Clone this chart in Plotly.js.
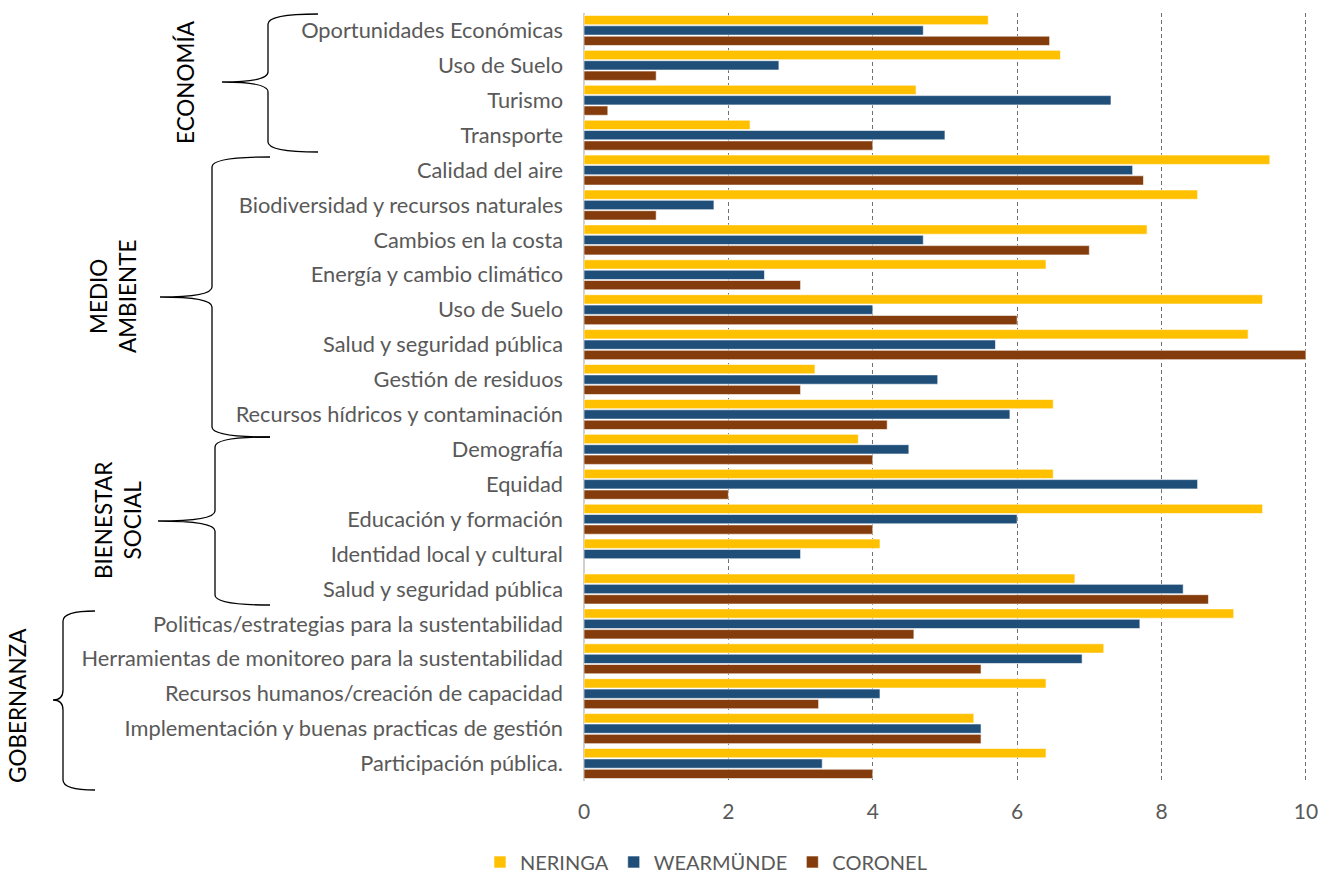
<!DOCTYPE html>
<html>
<head>
<meta charset="utf-8">
<script src="https://cdn.plot.ly/plotly-3.0.1.min.js"></script>
<style>html,body{margin:0;padding:0;background:#fff;}#chart{width:1330px;height:875px;}</style>
</head>
<body>
<div id="chart"></div>
<script>
const categories = [
  "Oportunidades Económicas",
  "Uso de Suelo",
  "Turismo",
  "Transporte",
  "Calidad del aire",
  "Biodiversidad y recursos naturales",
  "Cambios en la costa",
  "Energía y cambio climático",
  "Uso de Suelo",
  "Salud y seguridad pública",
  "Gestión de residuos",
  "Recursos hídricos y contaminación",
  "Demografía",
  "Equidad",
  "Educación y formación",
  "Identidad local y cultural",
  "Salud y seguridad pública",
  "Politicas/estrategias para la sustentabilidad",
  "Herramientas de monitoreo para la sustentabilidad",
  "Recursos humanos/creación de capacidad",
  "Implementación y buenas practicas de gestión",
  "Participación pública."
];
const neringa   = [5.6, 6.6, 4.6, 2.3, 9.5, 8.5, 7.8, 6.4, 9.4, 9.2, 3.2, 6.5, 3.8, 6.5, 9.4, 4.1, 6.8, 9.0, 7.2, 6.4, 5.4, 6.4];
const wearmunde = [4.7, 2.7, 7.3, 5.0, 7.6, 1.8, 4.7, 2.5, 4.0, 5.7, 4.9, 5.9, 4.5, 8.5, 6.0, 3.0, 8.3, 7.7, 6.9, 4.1, 5.5, 3.3];
const coronel   = [6.45, 1.0, 0.33, 4.0, 7.75, 1.0, 7.0, 3.0, 6.0, 10.0, 3.0, 4.2, 4.0, 2.0, 4.0, null, 8.65, 4.57, 5.5, 3.25, 5.5, 4.0];
const seriesNames = ["NERINGA", "WEARMÜNDE", "CORONEL"];
const xTicks = [0, 2, 4, 6, 8, 10];
const groupNames = ["ECONOMÍA", "MEDIO<br>AMBIENTE", "BIENESTAR<br>SOCIAL", "GOBERNANZA"];

const idx = categories.map((_, i) => i);
const colors = ["#FFC000", "#1F4E79", "#843C0C"];
const data = [neringa, wearmunde, coronel].map((vals, k) => ({
  type: "bar",
  orientation: "h",
  name: seriesNames[k],
  x: vals,
  y: idx,
  marker: {color: colors[k], line: {color: "rgba(255,255,255,0.6)", width: 1}},
  hoverinfo: "x+name"
}));

// plot area geometry (pixels)
const W = 1330, H = 875;
const M = {l: 584, r: 23, t: 13, b: 94, autoexpand: false};
const PW = W - M.l - M.r, PH = H - M.t - M.b;
const px = x => ((x - M.l) / PW).toFixed(5);
const py = y => (1 - (y - M.t) / PH).toFixed(5);

function brace(xEnd, yTop, xV, xTip, yTip, yBot) {
  const r = 10;
  return "M" + px(xEnd) + "," + py(yTop) +
    " Q" + px(xV) + "," + py(yTop) + " " + px(xV) + "," + py(yTop + r) +
    " L" + px(xV) + "," + py(yTip - r) +
    " Q" + px(xV) + "," + py(yTip) + " " + px(xTip) + "," + py(yTip) +
    " Q" + px(xV) + "," + py(yTip) + " " + px(xV) + "," + py(yTip + r) +
    " L" + px(xV) + "," + py(yBot - r) +
    " Q" + px(xV) + "," + py(yBot) + " " + px(xEnd) + "," + py(yBot);
}

const braces = [
  [318, 14, 268, 222, 82, 152],
  [270, 157, 212, 160, 297, 437],
  [270, 437, 215, 158, 521, 605],
  [95, 611, 63, 53, 700, 790]
];
const shapes = braces.map(b => ({
  type: "path", xref: "paper", yref: "paper",
  path: brace(...b),
  line: {color: "#000", width: 1.3}
}));

const labelPos = [[186, 82], [113, 297], [118, 520], [18, 705]];
const annotations = groupNames.map((t, i) => ({
  text: t, xref: "paper", yref: "paper",
  x: +px(labelPos[i][0]), y: +py(labelPos[i][1]),
  xanchor: "center", yanchor: "middle",
  textangle: -90, showarrow: false,
  font: {family: "Lato, sans-serif", size: 22.5, color: "#000"}
}));

const layout = {
  width: W, height: H,
  margin: M,
  paper_bgcolor: "#fff", plot_bgcolor: "#fff",
  barmode: "group",
  bargap: 0.11, bargroupgap: 0.1,
  font: {family: "Lato, sans-serif", color: "#595959"},
  xaxis: {
    range: [0, 10.015], tickvals: xTicks, ticktext: xTicks.map(String),
    showgrid: true, gridcolor: "#6f6f6f", griddash: "4px,3px", gridwidth: 1,
    zeroline: true, zerolinecolor: "#d0d0d0", zerolinewidth: 1.5,
    showline: false, ticks: "", ticklabelstandoff: 16,
    tickfont: {size: 21, color: "#595959"}, fixedrange: true, automargin: false
  },
  yaxis: {
    range: [categories.length - 0.5, -0.5],
    tickvals: idx, ticktext: categories,
    showgrid: false, zeroline: false, showline: false, ticks: "",
    ticklabelstandoff: 20, automargin: false,
    tickfont: {size: 21.8, color: "#595959"}, fixedrange: true
  },
  legend: {
    orientation: "h", x: +px(706), xanchor: "center", xref: "paper",
    y: +py(862), yanchor: "middle", yref: "paper",
    font: {size: 20, color: "#595959"}, traceorder: "normal",
    itemwidth: 30
  },
  showlegend: true,
  shapes: shapes,
  annotations: annotations
};

Plotly.newPlot("chart", data, layout, {displayModeBar: false, staticPlot: true});
</script>
</body>
</html>
